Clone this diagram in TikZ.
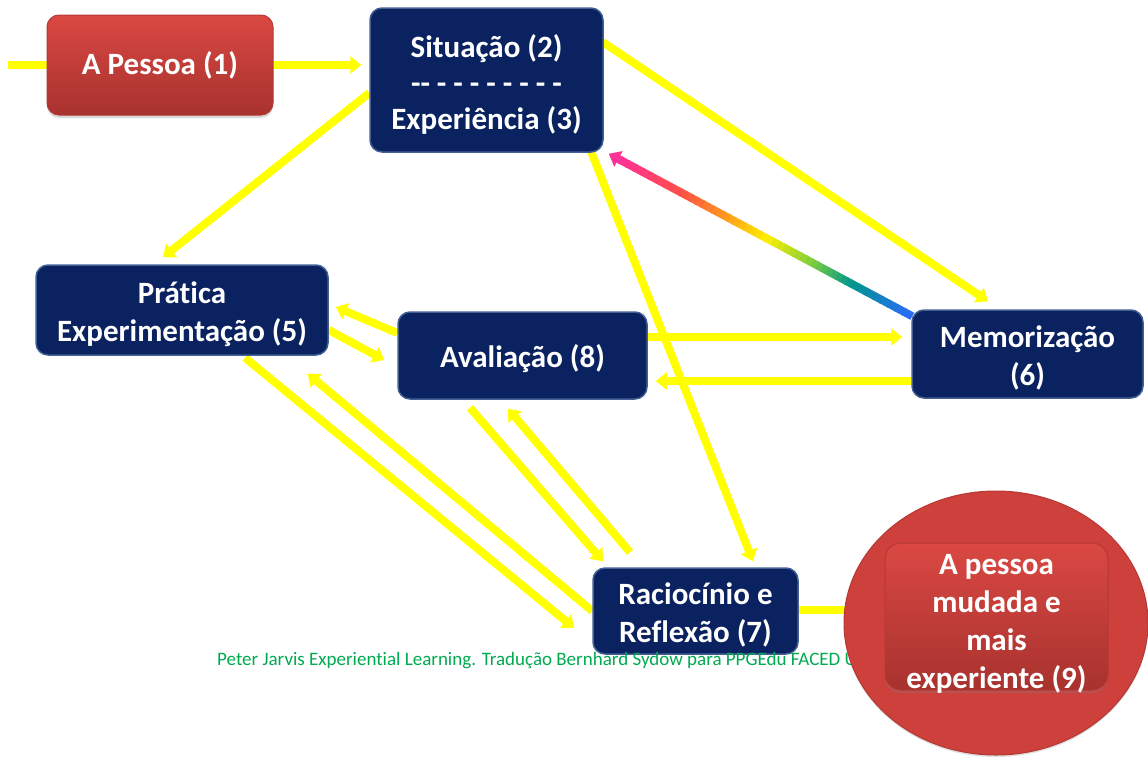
\documentclass[tikz,border=0pt]{standalone}
\usepackage{fontspec}
\setmainfont[Ligatures={TeX,NoCommon}]{Carlito}
\usetikzlibrary{arrows.meta,calc,shapes.geometric,shadows}

\definecolor{navy}{RGB}{10,34,96}
\definecolor{navyedge}{RGB}{66,96,146}
\definecolor{yel}{RGB}{255,255,0}
\definecolor{redtop}{RGB}{218,72,67}
\definecolor{redbot}{RGB}{168,50,46}
\definecolor{redline}{RGB}{180,56,52}
\definecolor{circred}{RGB}{206,64,60}
\definecolor{footgreen}{RGB}{0,170,80}
% rainbow stops, from the memory box to the experience box
\definecolor{rb0}{RGB}{45,105,255}
\definecolor{rb1}{RGB}{0,150,140}
\definecolor{rb2}{RGB}{125,205,60}
\definecolor{rb3}{RGB}{255,240,0}
\definecolor{rb4}{RGB}{255,150,30}
\definecolor{rb5}{RGB}{255,80,70}
\definecolor{rb6}{RGB}{255,50,150}

% invisible strut that pushes a text block down inside its box
\newcommand\lift[1]{\rule{0pt}{#1}}

\pgfdeclarelayer{bg}
\pgfsetlayers{bg,main}

\tikzset{
  navybox/.style={draw=navyedge, line width=1.5pt, fill=navy, rounded corners=12pt,
    text=white, font=\bfseries\fontsize{31}{38}\selectfont, align=center, inner sep=0pt},
  redbox/.style={draw=redline, line width=1pt, top color=redtop, bottom color=redbot,
    rounded corners=12pt, text=white, font=\bfseries\fontsize{31}{38}\selectfont,
    align=center, inner sep=0pt,
    drop shadow={shadow xshift=0pt, shadow yshift=-3pt, opacity=0.3}},
  yline/.style={draw=yel, line width=8pt},
  ya/.style={yline, -{Triangle[width=17pt,length=11pt]}},
}

\begin{document}
\begin{tikzpicture}[x=1pt,y=-1pt]
\useasboundingbox (0,0) rectangle (1148,758);
\clip (0,0) rectangle (1148,758);

% ---- boxes ----
\node[redbox, minimum width=226pt, minimum height=100pt] (p1) at (160,65) {A Pessoa (1)};
\node[navybox, minimum width=233pt, minimum height=144pt,
      font=\bfseries\fontsize{31}{36}\selectfont] (sit) at (486.5,80)
      {\lift{31pt}Situação (2)\\-{}- - - - - - - - -\\Experiência (3)};
\node[navybox, minimum width=292pt, minimum height=90pt] (pra) at (182,310)
      {\lift{30pt}Prática\\Experimentação (5)};
\node[navybox, minimum width=249pt, minimum height=87pt] (ava) at (522.5,355.5)
      {\lift{29pt}Avaliação (8)};
\node[navybox, minimum width=231pt, minimum height=88pt] (mem) at (1027.5,354)
      {\lift{30pt}Memorização\\(6)};
\node[navybox, minimum width=205pt, minimum height=86pt] (rac) at (695.5,611)
      {\lift{30pt}Raciocínio e\\Reflexão (7)};

% credit line, partly covered by the final circle
\node[anchor=west, inner sep=0pt, text=footgreen, font=\fontsize{19}{22}\selectfont] (credit)
      at (217,661) {Peter Jarvis Experiential Learning. Tradução Bernhard Sydow para PPGEdu FACED U};

% final outcome: circle with a rounded box inside, text set over the box
\node[ellipse, minimum width=304pt, minimum height=264pt, inner sep=0pt,
      fill=circred, draw=redline, line width=1pt,
      drop shadow={shadow xshift=0pt, shadow yshift=-2pt, opacity=0.25}] (circ) at (996,623) {};
\node[redbox, rounded corners=16pt, minimum width=223pt, minimum height=147pt] (p9)
      at (996.5,616.5) {};
\node[text=white, font=\bfseries\fontsize{31}{38}\selectfont, align=center, inner sep=0pt]
      (p9t) at ($(p9.center)+(0,7.5)$) {A pessoa\\mudada e\\mais\\experiente (9)};

\coordinate (src) at (8,65);

% ---- connectors, behind the boxes ----
\begin{pgfonlayer}{bg}
  \draw[yline] (src) -- (p1.west);
  \draw[ya] (p1.east) -- ($(sit.west)+(-8,-15)$);
  \draw[ya] ($(sit.west)+(0,13)$) -- ($(pra.north)+(-19,-7)$);
  \draw[ya] ($(sit.east)+(-1,-38)$) -- ($(mem.north)+(-39.5,-8)$);
  \draw[ya] ($(sit.south east)+(-13,-2)$) -- ($(rac.north)+(57.5,-6)$);
  \draw[ya] ($(ava.east)+(0,-18.5)$) -- ($(mem.west)+(-9,-17)$);
  \draw[ya] ($(mem.west)+(0,27)$) -- ($(ava.east)+(8,25.5)$);
  \draw[ya] ($(ava.west)+(0,-22.5)$) -- ($(pra.east)+(7,-3)$);
  \draw[ya] ($(pra.east)+(0,20)$) -- ($(ava.west)+(-13,4.5)$);
  \draw[ya] ($(pra.south)+(63,2)$) -- ($(rac.west)+(-18,17)$);
  \draw[ya] (rac.west) -- ($(pra.south east)+(-21,18)$);
  \draw[ya] ($(ava.south)+(-52.5,8)$) -- ($(rac.north)+(-92.5,-6)$);
  \draw[ya] ($(rac.north)+(-65.5,-15)$) -- ($(ava.south)+(-14.5,9)$);
  \draw[yline] ($(rac.east)+(0,-1)$) -- ($(rac.east -| circ.center)+(0,-1)$);

  % rainbow feedback from memory back to experience
  \coordinate (rA) at ($(mem.north west)+(1,7)$);
  \coordinate (rB) at ($(sit.south east)+(5,1)$);
  \foreach \ca/\cb/\ta/\tb in {rb0/rb1/0/0.2, rb1/rb2/0.2/0.33, rb2/rb3/0.33/0.48,
                               rb3/rb4/0.48/0.62, rb4/rb5/0.62/0.76, rb5/rb6/0.76/0.96}{
    \foreach \k in {0,...,7}{
      \pgfmathsetmacro\sa{\ta+(\tb-\ta)*\k/8}
      \pgfmathsetmacro\sb{\ta+(\tb-\ta)*(\k+1)/8+0.004}
      \pgfmathsetmacro\mix{100-(\k+0.5)*12.5}
      \draw[line width=8pt, color=\ca!\mix!\cb] ($(rA)!\sa!(rB)$) -- ($(rA)!\sb!(rB)$);
    }
  }
  \draw[line width=8pt, rb6, -{Triangle[width=17pt,length=11pt]}] ($(rA)!0.955!(rB)$) -- (rB);
\end{pgfonlayer}
\end{tikzpicture}
\end{document}
